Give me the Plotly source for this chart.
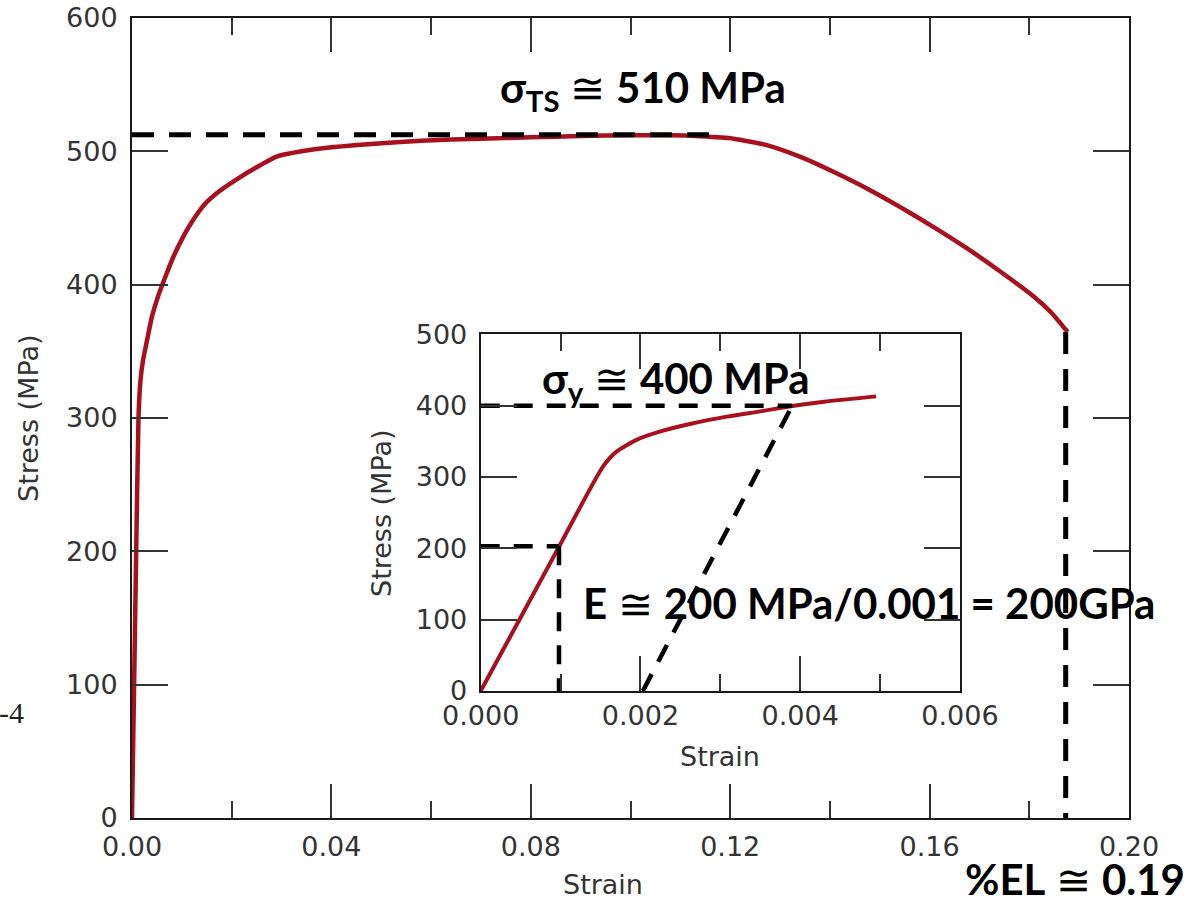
import plotly.graph_objects as go

# ---------------- data ----------------
# main stress-strain curve
main_strain = [0, 0.0008, 0.0013, 0.0017, 0.0022, 0.0030, 0.0040, 0.0052, 0.0066, 0.0082,
               0.0100, 0.0120, 0.0145, 0.0175, 0.0210, 0.0250, 0.0290, 0.0340, 0.0400,
               0.0480, 0.0580, 0.0700, 0.0800, 0.0900, 0.1000, 0.1080, 0.1140, 0.1207,
               0.1275, 0.1341, 0.1408, 0.1475, 0.1542, 0.1609, 0.1676, 0.1743, 0.1810,
               0.1843, 0.1877]
main_stress = [0, 190, 300, 328, 343, 358, 376, 391, 405, 420,
               434, 447, 460, 470, 479, 488, 496, 500, 503,
               505.5, 508, 509.5, 510.5, 511.5, 512, 512, 511.3, 509.5,
               504.5, 495.8, 484.5, 472, 458, 443, 427, 409.5, 390.8,
               379.5, 364.5]

# inset (elastic region) curve
inset_strain = [0, 0.00097, 0.00153, 0.00170, 0.00195, 0.00224, 0.00266, 0.00308,
                0.00350, 0.00390, 0.00430, 0.00495]
inset_stress = [0, 200, 314.5, 335.5, 352, 363.5, 375.3, 384.6, 392, 399.5, 405.5, 413]

# guide lines (dashed)
ts_line_x = [0, 0.1164]          # tensile strength level
ts_line_y = [512.5, 512.5]
el_line_x = [0.1873, 0.1873]     # elongation at fracture
el_line_y = [364.5, 0]
ys_line_x = [0, 0.0039]          # yield strength level (inset)
ys_line_y = [400, 400]
off_line_x = [0.00203, 0.0039]   # 0.2% offset line (inset)
off_line_y = [0, 400]
e_h_x = [0, 0.00098]             # modulus construction (inset)
e_h_y = [203, 203]
e_v_x = [0.00098, 0.00098]
e_v_y = [203, 0]

main_xticks = [0.00, 0.04, 0.08, 0.12, 0.16, 0.20]
main_yticks = [0, 100, 200, 300, 400, 500, 600]
inset_xticks = [0.000, 0.002, 0.004, 0.006]
inset_yticks = [0, 100, 200, 300, 400, 500]

# ---------------- layout helpers ----------------
W, H = 1190, 898
L, R, T, B = 132, 61, 18, 80


def px(xp):
    return (xp - L) / (W - L - R)


def py(yp):
    return (H - B - yp) / (H - T - B)


RED = "#A8101F"
tickfont = dict(family="DejaVu Sans", size=27, color="#333333")
boldfont = dict(family="Lato", size=42, color="#000000")

fig = go.Figure()

fig.add_trace(go.Scatter(x=main_strain, y=main_stress, mode="lines",
                         line=dict(color=RED, width=4.5, shape="spline", smoothing=0.5),
                         xaxis="x", yaxis="y", showlegend=False))
fig.add_trace(go.Scatter(x=ts_line_x, y=ts_line_y, mode="lines",
                         line=dict(color="black", width=5, dash="22px,15px"),
                         xaxis="x", yaxis="y", showlegend=False))
fig.add_trace(go.Scatter(x=el_line_x, y=el_line_y, mode="lines",
                         line=dict(color="black", width=5, dash="22px,15px"),
                         xaxis="x", yaxis="y", showlegend=False))

fig.add_trace(go.Scatter(x=inset_strain, y=inset_stress, mode="lines",
                         line=dict(color=RED, width=4, shape="spline", smoothing=0.6),
                         xaxis="x2", yaxis="y2", showlegend=False))
for xs, ys in [(ys_line_x, ys_line_y), (off_line_x, off_line_y), (e_h_x, e_h_y), (e_v_x, e_v_y)]:
    fig.add_trace(go.Scatter(x=xs, y=ys, mode="lines",
                             line=dict(color="black", width=4.5, dash="19px,14px"),
                             xaxis="x2", yaxis="y2", showlegend=False))

axis_common = dict(showline=True, linecolor="#1a1a1a", linewidth=2, mirror="ticks",
                   ticks="inside", tickcolor="#333333", tickwidth=1.5, automargin=False,
                   showgrid=False, zeroline=False, tickfont=tickfont)

fig.update_layout(
    width=W, height=H, autosize=False,
    margin=dict(l=L, r=R, t=T, b=B),
    paper_bgcolor="white", plot_bgcolor="white",
    xaxis=dict(axis_common, range=[0, 0.2], tickvals=main_xticks, tickformat=".2f",
               ticklen=34, domain=[0, 1], ticklabelstandoff=4,
               minor=dict(ticks="inside", ticklen=17, tickcolor="#333333", tickwidth=1.5,
                          tick0=0, dtick=0.02, showgrid=False)),
    yaxis=dict(axis_common, range=[0, 600], tickvals=main_yticks, ticklen=36, domain=[0, 1],
               ticklabelstandoff=7),
    xaxis2=dict(axis_common, range=[0, 0.006], tickvals=inset_xticks, tickformat=".3f",
                ticklen=35, anchor="y2", domain=[px(480.7), px(960)], ticklabelstandoff=0,
                minor=dict(ticks="inside", ticklen=17, tickcolor="#333333", tickwidth=1.5,
                           tick0=0, dtick=0.001, showgrid=False)),
    yaxis2=dict(axis_common, range=[0, 500], tickvals=inset_yticks, ticklen=36,
                anchor="x2", domain=[py(691), py(334.3)], ticklabelstandoff=6),
)

# inset background
fig.add_shape(type="rect", xref="paper", yref="paper", x0=px(480.7), x1=px(960),
              y0=py(691), y1=py(334.3), fillcolor="white", line=dict(width=0), layer="below")

ann = []
ann.append(dict(text="Strain", x=px(603), y=py(884), font=tickfont))
ann.append(dict(text="Stress (MPa)", x=px(28), y=py(418), font=tickfont, textangle=-90))
ann.append(dict(text="Strain", x=px(720), y=py(756), font=tickfont))
ann.append(dict(text="Stress (MPa)", x=px(381), y=py(513), font=tickfont, textangle=-90))
ann.append(dict(text="<b>σ<sub>TS</sub></b> ≅ <b>510 MPa</b>", x=px(498), y=py(90),
                xanchor="left", font=boldfont))
ann.append(dict(text="<b>σ<sub>y</sub></b> ≅ <b>400 MPa</b>", x=px(540), y=py(381),
                xanchor="left", font=boldfont))
ann.append(dict(text="<b>E</b> ≅ <b>200 MPa/0.001 = 200GPa</b>", x=px(581), y=py(603),
                xanchor="left", font=boldfont))
ann.append(dict(text="<b>%EL</b> ≅ <b>0.19</b>", x=px(1187), y=py(879), xanchor="right",
                font=boldfont))
ann.append(dict(text="-4", x=px(26), y=py(712), xanchor="right",
                font=dict(family="Liberation Serif", size=30, color="#222222")))
for a in ann:
    a.setdefault("xanchor", "center")
    a.update(xref="paper", yref="paper", showarrow=False, yanchor="middle")
    fig.add_annotation(**a)

fig.write_html("out.html", config={"displayModeBar": False},
               post_script="document.body.style.margin='0px';")
